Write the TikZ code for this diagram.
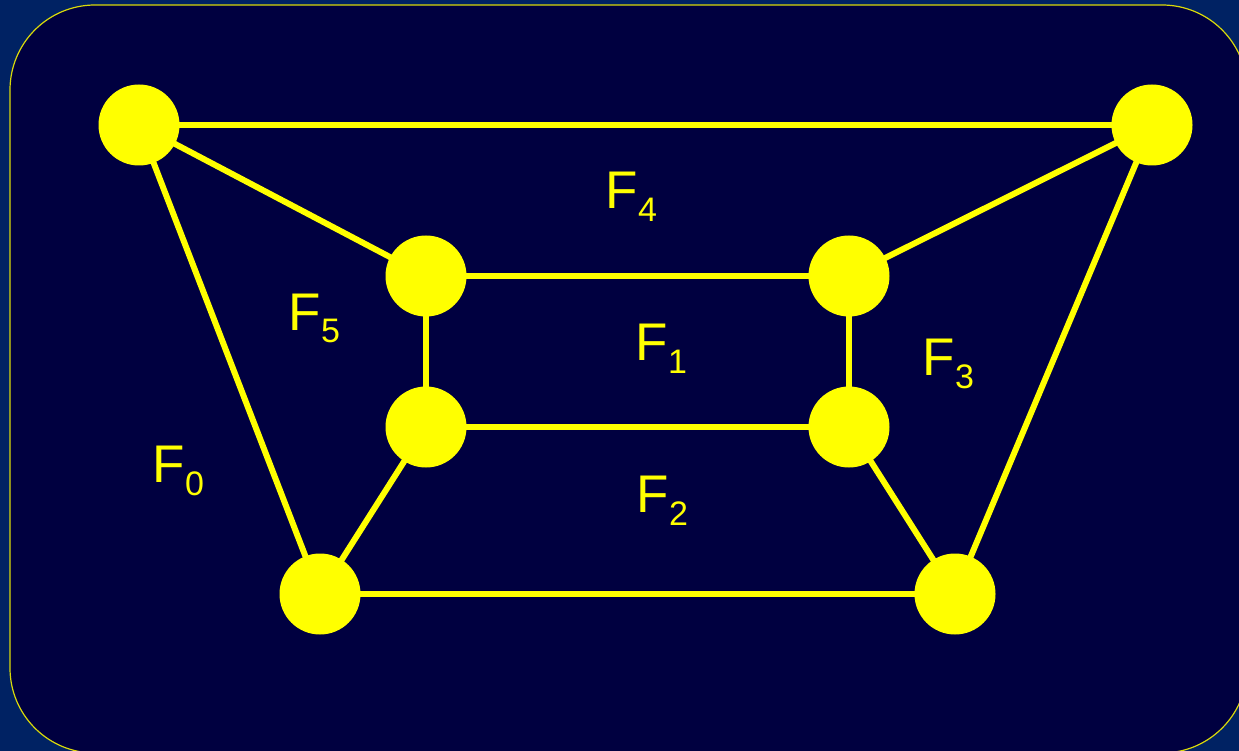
\documentclass[tikz,border=0pt]{standalone}
\usepackage{fontspec}
\setmainfont{Liberation Sans}
\definecolor{outerbg}{HTML}{002263}
\definecolor{innerbg}{HTML}{000040}
\definecolor{ylw}{HTML}{FFFF00}
\newcommand\facelabel[1]{F\kern0.5pt\raisebox{-13pt}{\fontsize{34}{34}\selectfont #1}}
\begin{document}
\begin{tikzpicture}[x=1pt,y=-1pt,
  vertex/.style={circle,fill=ylw,minimum size=81pt,inner sep=0pt},
  edge/.style={draw=ylw,line width=6pt},
  face/.style={text=ylw,font=\fontsize{53}{53}\selectfont,anchor=base west,inner sep=0pt}]
\useasboundingbox[fill=outerbg] (0,0) rectangle (1239,751);
\draw[draw=ylw!85!innerbg,line width=1.2pt,fill=innerbg,rounded corners=85pt] (10,5) rectangle (1247,753);
\coordinate (pa) at (139,125);
\coordinate (pb) at (1152,125);
\coordinate (pc) at (426,276);
\coordinate (pd) at (849,276);
\coordinate (pe) at (426,427);
\coordinate (pg) at (849,427);
\coordinate (ph) at (320,594);
\coordinate (pi) at (955,594);
\draw[edge] (pa) -- (pb);
\draw[edge] (pa) -- (pc);
\draw[edge] (pa) -- (ph);
\draw[edge] (pb) -- (pd);
\draw[edge] (pb) -- (pi);
\draw[edge] (pc) -- (pd);
\draw[edge] (pc) -- (pe);
\draw[edge] (pd) -- (pg);
\draw[edge] (pe) -- (pg);
\draw[edge] (pe) -- (ph);
\draw[edge] (pg) -- (pi);
\draw[edge] (ph) -- (pi);
\node[vertex] (a) at (pa) {};
\node[vertex] (b) at (pb) {};
\node[vertex] (c) at (pc) {};
\node[vertex] (d) at (pd) {};
\node[vertex] (e) at (pe) {};
\node[vertex] (g) at (pg) {};
\node[vertex] (h) at (ph) {};
\node[vertex] (i) at (pi) {};
\node[face] (f4) at (605,209) {\facelabel{4}};
\node[face] (f5) at (288,330) {\facelabel{5}};
\node[face] (f1) at (635,360) {\facelabel{1}};
\node[face] (f3) at (922,375) {\facelabel{3}};
\node[face] (f0) at (152,482) {\facelabel{0}};
\node[face] (f2) at (636,512) {\facelabel{2}};
\end{tikzpicture}
\end{document}
